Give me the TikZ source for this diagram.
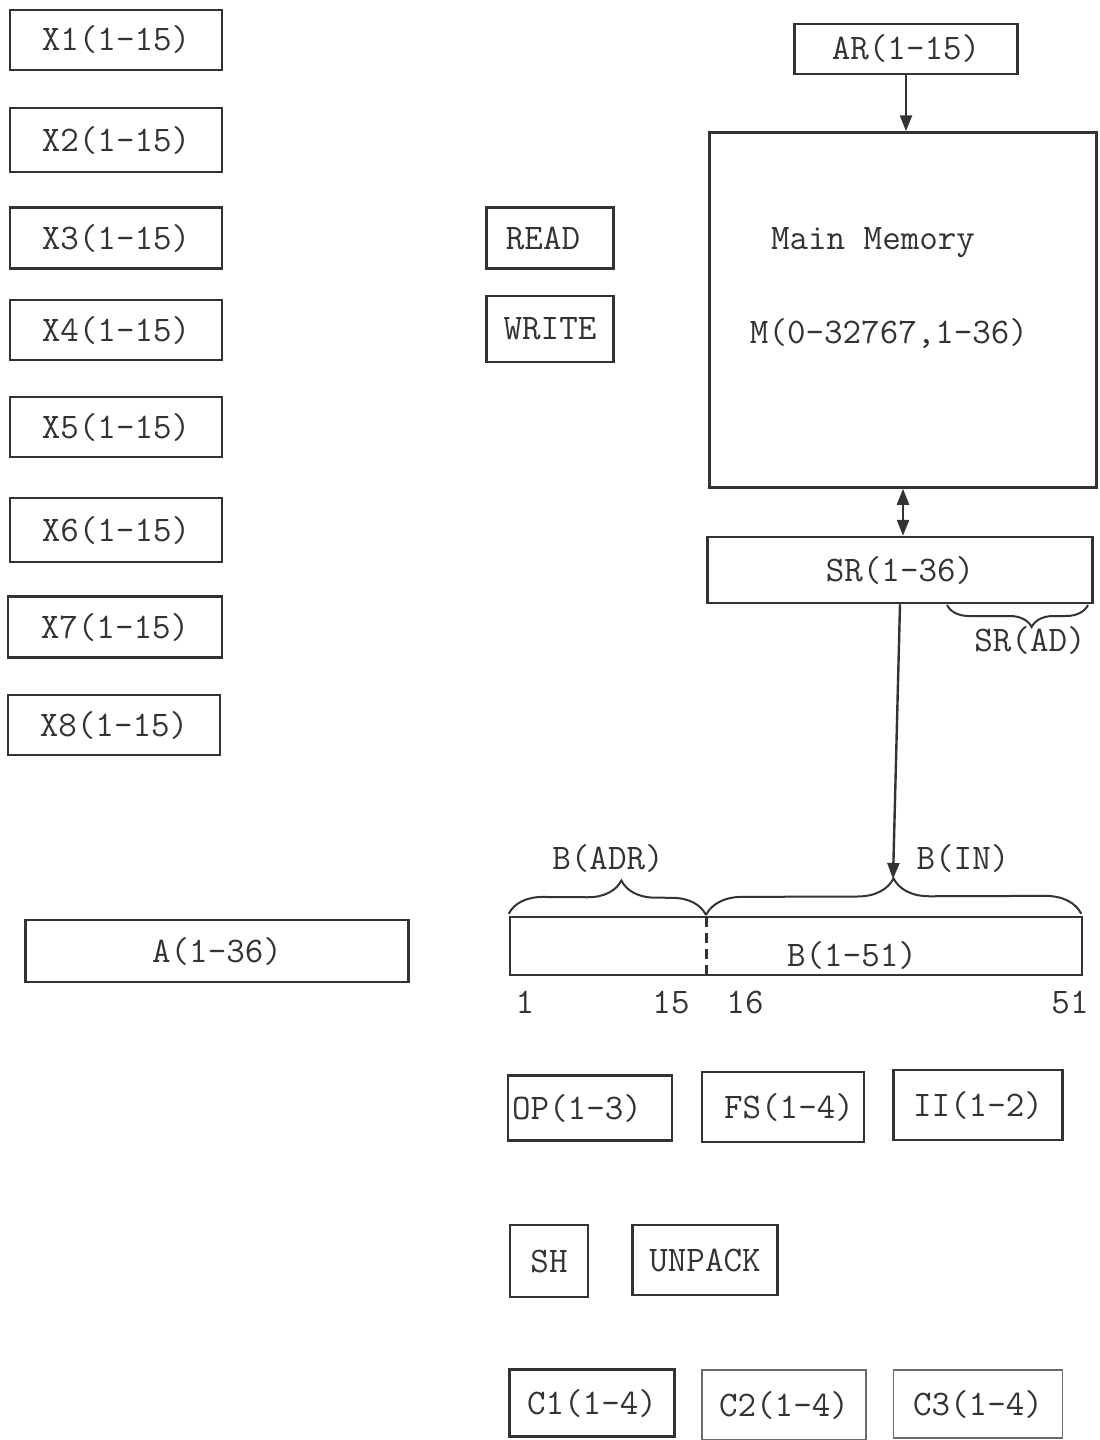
\documentclass[tikz,border=0pt]{standalone}
\usetikzlibrary{arrows.meta,decorations.pathreplacing,calc}
\definecolor{ink}{HTML}{333333}
\definecolor{faint}{HTML}{6A6A6A}
\begin{document}
\begin{tikzpicture}[x=1pt,y=-1pt,
  font=\ttfamily\fontsize{36}{40}\selectfont,
  reg/.style={draw=ink, text=ink, line width=2.5pt, inner sep=0pt},
  fadedreg/.style={draw=faint, text=ink, line width=1.4pt, inner sep=0pt},
  sz/.style 2 args={minimum width=#1pt, minimum height=#2pt},
  lbl/.style={text=ink, inner sep=0pt},
  wire/.style={draw=ink, line width=2.4pt},
  tip/.style={-{Triangle[length=16pt,width=12pt]}},
  bothtip/.style={{Triangle[length=16pt,width=12pt]}-{Triangle[length=16pt,width=12pt]}},
  bracket/.style={draw=ink, line width=2pt, decorate}]
\useasboundingbox (0,0) rectangle (1100,1440);

% index registers
\node[reg, sz={212}{60}] (x1) at (116,40)  {X1(1-15)};
\node[reg, sz={212}{64}] (x2) at (116,140) {X2(1-15)};
\node[reg, sz={212}{61}] (x3) at (116,238) {X3(1-15)};
\node[reg, sz={212}{60}] (x4) at (116,330) {X4(1-15)};
\node[reg, sz={212}{60}] (x5) at (116,427) {X5(1-15)};
\node[reg, sz={212}{64}] (x6) at (116,530) {X6(1-15)};
\node[reg, sz={214}{61}] (x7) at (115,627) {X7(1-15)};
\node[reg, sz={212}{60}] (x8) at (114,725) {X8(1-15)};

% control flip-flops
\node[reg, sz={127}{61}] (read)  at (550,238) {READ\kern14pt};
\node[reg, sz={127}{66}] (write) at (550,329) {WRITE};

% memory section
\node[reg, sz={223}{50}] (ar) at (906,49) {AR(1-15)};
\node[reg, sz={387}{355}] (mm) at (903,310) {};
\node[lbl] (mmname) at (873,243) {Main Memory};
\node[lbl] (mmsize) at (889,334) {M(0-32767,1-36)};
\node[reg, sz={385}{66}] (sr) at (900,570) {SR(1-36)};
\node[lbl] (srad) at (1030,640) {SR(AD)};

\draw[wire, tip] (ar.south) -- (ar.south |- mm.north);
\draw[wire, bothtip] (mm.south) -- (mm.south |- sr.north);

% accumulator
\node[reg, sz={383}{62}] (acc) at (217,951) {A(1-36)};

% buffer register
\node[reg, sz={572}{58}] (b) at (796,946) {};
\node[lbl] (bname) at (852,955) {B(1-51)};
\coordinate (bsplit) at (706,917);
\draw[draw=ink, line width=3pt, dash pattern=on 10pt off 6pt] (bsplit) -- (bsplit |- b.south);
\node[lbl] (n1)  at (525,1002) {1};
\node[lbl] (n15) at (671,1002) {15};
\node[lbl] (n16) at (745,1002) {16};
\node[lbl] (n51) at (1070,1002) {51};

\node[lbl] (badr) at (608,858) {B(ADR)};
\node[lbl] (bin)  at (963,858) {B(IN)};
\draw[bracket, decoration={brace, amplitude=34pt, aspect=0.57}]
  ($(b.north west)+(0,-2)$) -- ($(bsplit)+(0,-2)$);
\draw[bracket, decoration={brace, amplitude=36pt, aspect=0.5}]
  ($(bsplit)+(0,-2)$) -- ($(b.north east)+(-2,-2)$);
\coordinate (intip) at (893,879);
\draw[wire, tip] (sr.south) -- (intip);

% address field of SR
\coordinate (sradr) at (1088,605);
\coordinate (sradl) at (947,605);
\draw[bracket, decoration={brace, amplitude=22pt, aspect=0.4}] (sradr) -- (sradl);

% instruction decoding registers
\node[reg, sz={164}{65}] (op) at (590,1108) {OP(1-3)\kern26pt};
\node[reg, sz={162}{70}] (fs) at (783,1107) {\kern12pt FS(1-4)};
\node[reg, sz={169}{70}] (ii) at (978,1105) {II(1-2)};

\node[reg, sz={78}{72}]  (sh)     at (549,1261) {SH};
\node[reg, sz={145}{70}] (unpack) at (705,1260) {UNPACK};

% counters
\node[reg, sz={165}{67}]      (c1) at (592,1403) {C1(1-4)};
\node[fadedreg, sz={164}{70}] (c2) at (784,1405) {C2(1-4)};
\node[fadedreg, sz={169}{68}] (c3) at (978,1404) {C3(1-4)};
\end{tikzpicture}
\end{document}
